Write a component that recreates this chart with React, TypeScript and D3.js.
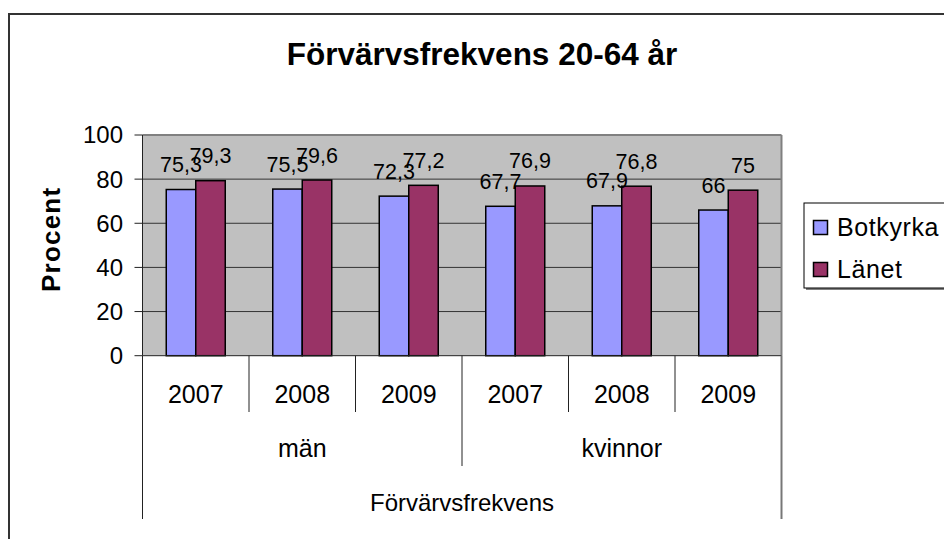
import React from "react";
import * as d3 from "d3";

const years = ["2007", "2008", "2009", "2007", "2008", "2009"];
const groups = ["män", "kvinnor"];
const seriesNames = ["Botkyrka", "Länet"];
const botkyrka = [75.3, 75.5, 72.3, 67.7, 67.9, 66];
const lanet = [79.3, 79.6, 77.2, 76.9, 76.8, 75];
const yTicks = [0, 20, 40, 60, 80, 100];
const colors = ["#9999FF", "#993366"];
const title = "Förvärvsfrekvens 20-64 år";
const yTitle = "Procent";
const outerLabel = "Förvärvsfrekvens";

const fmt = (v: number) => String(v).replace(".", ",");

export default function App() {
  const W = 944, H = 539;
  const left = 142.5, right = 781.5, top = 135, bottom = 355.7;
  const font = "Liberation Sans, Arial, Helvetica, sans-serif";
  const x = d3.scaleBand<number>().domain(d3.range(years.length)).range([left, right]).paddingInner(0).paddingOuter(0);
  const y = d3.scaleLinear().domain([0, 100]).range([bottom, top]);
  const bw = x.bandwidth();
  const barW = 29.5;
  const series = [botkyrka, lanet];
  const legendX = 804, legendY = 203;
  return (
    <svg width={W} height={H} style={{ position: "absolute", left: 0, top: 0, background: "#fff" }} fontFamily={font}>
      {/* outer border */}
      <rect x={9} y={14} width={W + 10} height={H + 10} fill="#fff" stroke="#333" strokeWidth={2} />
      <text x={482} y={65} textAnchor="middle" fontSize={31.5} fontWeight="bold">{title}</text>
      {/* plot area */}
      <rect x={left} y={top} width={right - left} height={bottom - top} fill="#C0C0C0" />
      {yTicks.filter(t => t > 0 && t < 100).map(t => (
        <line key={t} x1={left} x2={right} y1={y(t)} y2={y(t)} stroke="#333" strokeWidth={1} />
      ))}
      <line x1={left} x2={right} y1={top} y2={top} stroke="#808080" strokeWidth={2} />
      <line x1={right} x2={right} y1={top} y2={bottom} stroke="#808080" strokeWidth={2} />
      {/* bars */}
      {series.map((s, si) => s.map((v, i) => {
        const cx = x(i)! + bw / 2;
        const bx = cx - barW + si * barW;
        return (
          <rect key={`${si}-${i}`} x={bx} y={y(v)} width={barW} height={y(0) - y(v)} fill={colors[si]} stroke="#000" strokeWidth={1.5} />
        );
      }))}
      {series.map((s, si) => s.map((v, i) => {
        const cx = x(i)! + bw / 2;
        const lx = cx - barW / 2 + si * barW;
        return (
          <text key={`l${si}-${i}`} x={lx} y={y(v) - 17.5} textAnchor="middle" fontSize={21.5}>{fmt(v)}</text>
        );
      }))}
      {/* y axis */}
      <line x1={left} x2={left} y1={top} y2={bottom} stroke="#222" strokeWidth={1} />
      {yTicks.map(t => (
        <g key={t}>
          <line x1={left - 8} x2={left} y1={y(t)} y2={y(t)} stroke="#222" strokeWidth={1} />
          <text x={123} y={y(t)} dy="0.35em" textAnchor="end" fontSize={24}>{t}</text>
        </g>
      ))}
      <text transform={`translate(60,${(top + bottom) / 2 - 6}) rotate(-90)`} textAnchor="middle" fontSize={26} fontWeight="bold" letterSpacing={1.2}>{yTitle}</text>
      {/* x axis */}
      <line x1={left} x2={right} y1={bottom} y2={bottom} stroke="#222" strokeWidth={1} />
      {d3.range(years.length + 1).map(k => {
        const xx = k === years.length ? right : x(k)!;
        const y2 = k === 0 || k === years.length ? 519 : k === 3 ? 466 : 412;
        return <line key={k} x1={xx} x2={xx} y1={bottom} y2={y2} stroke={k === years.length ? "#777" : "#222"} strokeWidth={k === years.length ? 2 : 1} />;
      })}
      {years.map((yr, i) => (
        <text key={i} x={x(i)! + bw / 2} y={402.5} textAnchor="middle" fontSize={25}>{yr}</text>
      ))}
      {groups.map((g, gi) => (
        <text key={g} x={x(gi * 3)! + bw * 1.5} y={456.5} textAnchor="middle" fontSize={25}>{g}</text>
      ))}
      <text x={(left + right) / 2} y={510.5} textAnchor="middle" fontSize={24}>{outerLabel}</text>
      {/* legend */}
      <rect x={legendX + 2} y={legendY + 2} width={200} height={85} fill="#808080" />
      <rect x={legendX} y={legendY} width={200} height={85} fill="#fff" stroke="#000" strokeWidth={1} />
      {seriesNames.map((n, i) => (
        <g key={n}>
          <rect x={813.5} y={220.5 + i * 42} width={14} height={14} fill={colors[i]} stroke="#000" strokeWidth={1.5} />
          <text x={837} y={227.5 + i * 42} dy="0.35em" fontSize={25} letterSpacing={0.6}>{n}</text>
        </g>
      ))}
    </svg>
  );
}
